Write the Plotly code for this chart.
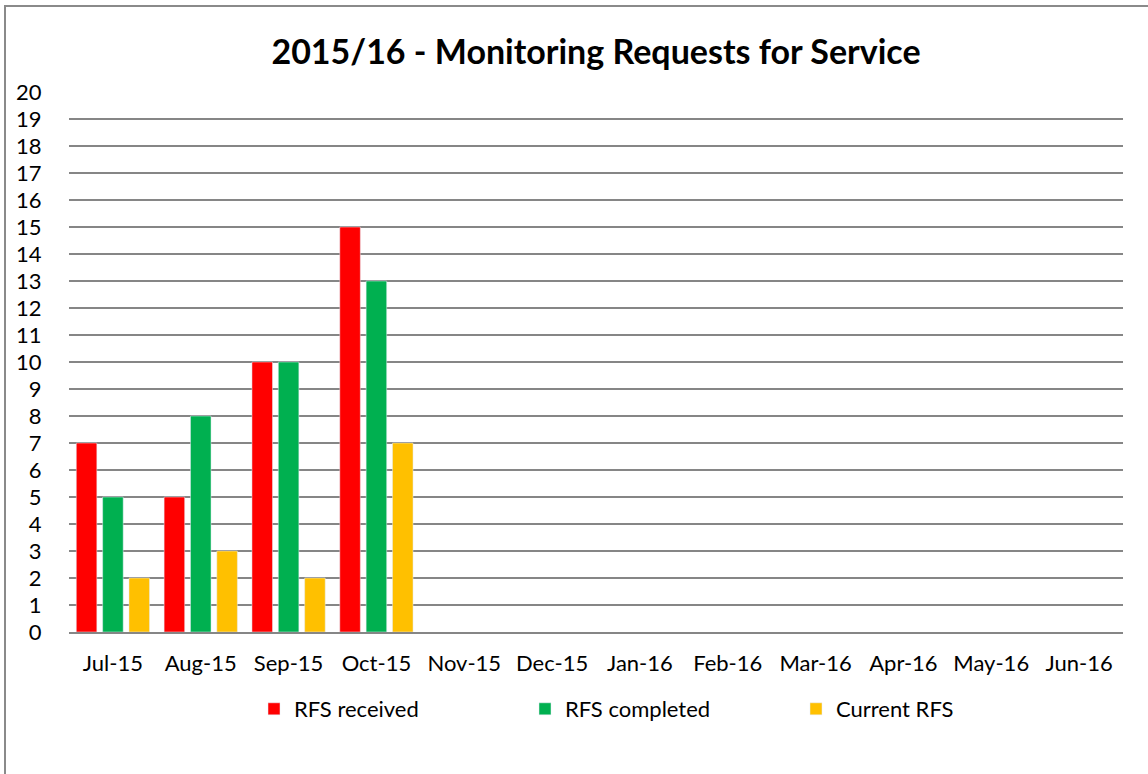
import plotly.graph_objects as go

months = ["Jul-15", "Aug-15", "Sep-15", "Oct-15", "Nov-15", "Dec-15",
          "Jan-16", "Feb-16", "Mar-16", "Apr-16", "May-16", "Jun-16"]
rfs_received = [7, 5, 10, 15, None, None, None, None, None, None, None, None]
rfs_completed = [5, 8, 10, 13, None, None, None, None, None, None, None, None]
current_rfs = [2, 3, 2, 7, None, None, None, None, None, None, None, None]
y_ticks = list(range(0, 21))

W, H = 1148, 774
L, T = 69, 92
R = W - 1123
B = H - 632
pw = W - L - R
ph = H - T - B


def px_x(x):
    return (x - L) / pw


def px_y(y):
    return (H - B - y) / ph


fig = go.Figure()
fig.add_trace(go.Bar(x=months, y=rfs_received, name="RFS received", marker_color="#FF0000"))
fig.add_trace(go.Bar(x=months, y=rfs_completed, name="RFS completed", marker_color="#00B050"))
fig.add_trace(go.Bar(x=months, y=current_rfs, name="Current RFS", marker_color="#FFC000"))

font = "Lato, Calibri, 'Open Sans', sans-serif"
fig.update_layout(
    width=W, height=H,
    margin=dict(l=L, r=R, t=T, b=B),
    paper_bgcolor="white", plot_bgcolor="white",
    barmode="group", bargap=0.1, bargroupgap=0.22,
    font=dict(family=font, size=22, color="black"),
    title=dict(text="<b>2015/16 - Monitoring Requests for Service</b>",
               x=0.5, xref="paper", xanchor="center",
               y=1 - 52 / H, yref="container", yanchor="middle",
               font=dict(family=font, size=34, color="black")),
    xaxis=dict(showgrid=False, showline=True, linecolor="#868686", linewidth=2,
               ticks="outside", ticklen=11, tickcolor="rgba(0,0,0,0)",
               tickfont=dict(size=22)),
    yaxis=dict(range=[0, 20], tickvals=y_ticks, showgrid=True, gridcolor="#868686",
               gridwidth=2, zeroline=False, showline=False,
               ticks="outside", ticklen=22, tickcolor="rgba(0,0,0,0)",
               tickfont=dict(size=22)),
    legend=dict(orientation="h", x=px_x(254), xanchor="left",
                y=px_y(709), yanchor="middle", entrywidth=226,
                font=dict(size=22), itemwidth=30),
    shapes=[dict(type="rect", xref="paper", yref="paper",
                 x0=px_x(5), x1=px_x(1175), y0=px_y(800), y1=px_y(6),
                 line=dict(color="#8a8a8a", width=2), fillcolor="rgba(0,0,0,0)",
                 layer="below")],
)

fig.write_html(
    "out.html",
    config={"displayModeBar": False},
    post_script="document.body.style.margin='0px';document.body.style.overflow='hidden';",
)
